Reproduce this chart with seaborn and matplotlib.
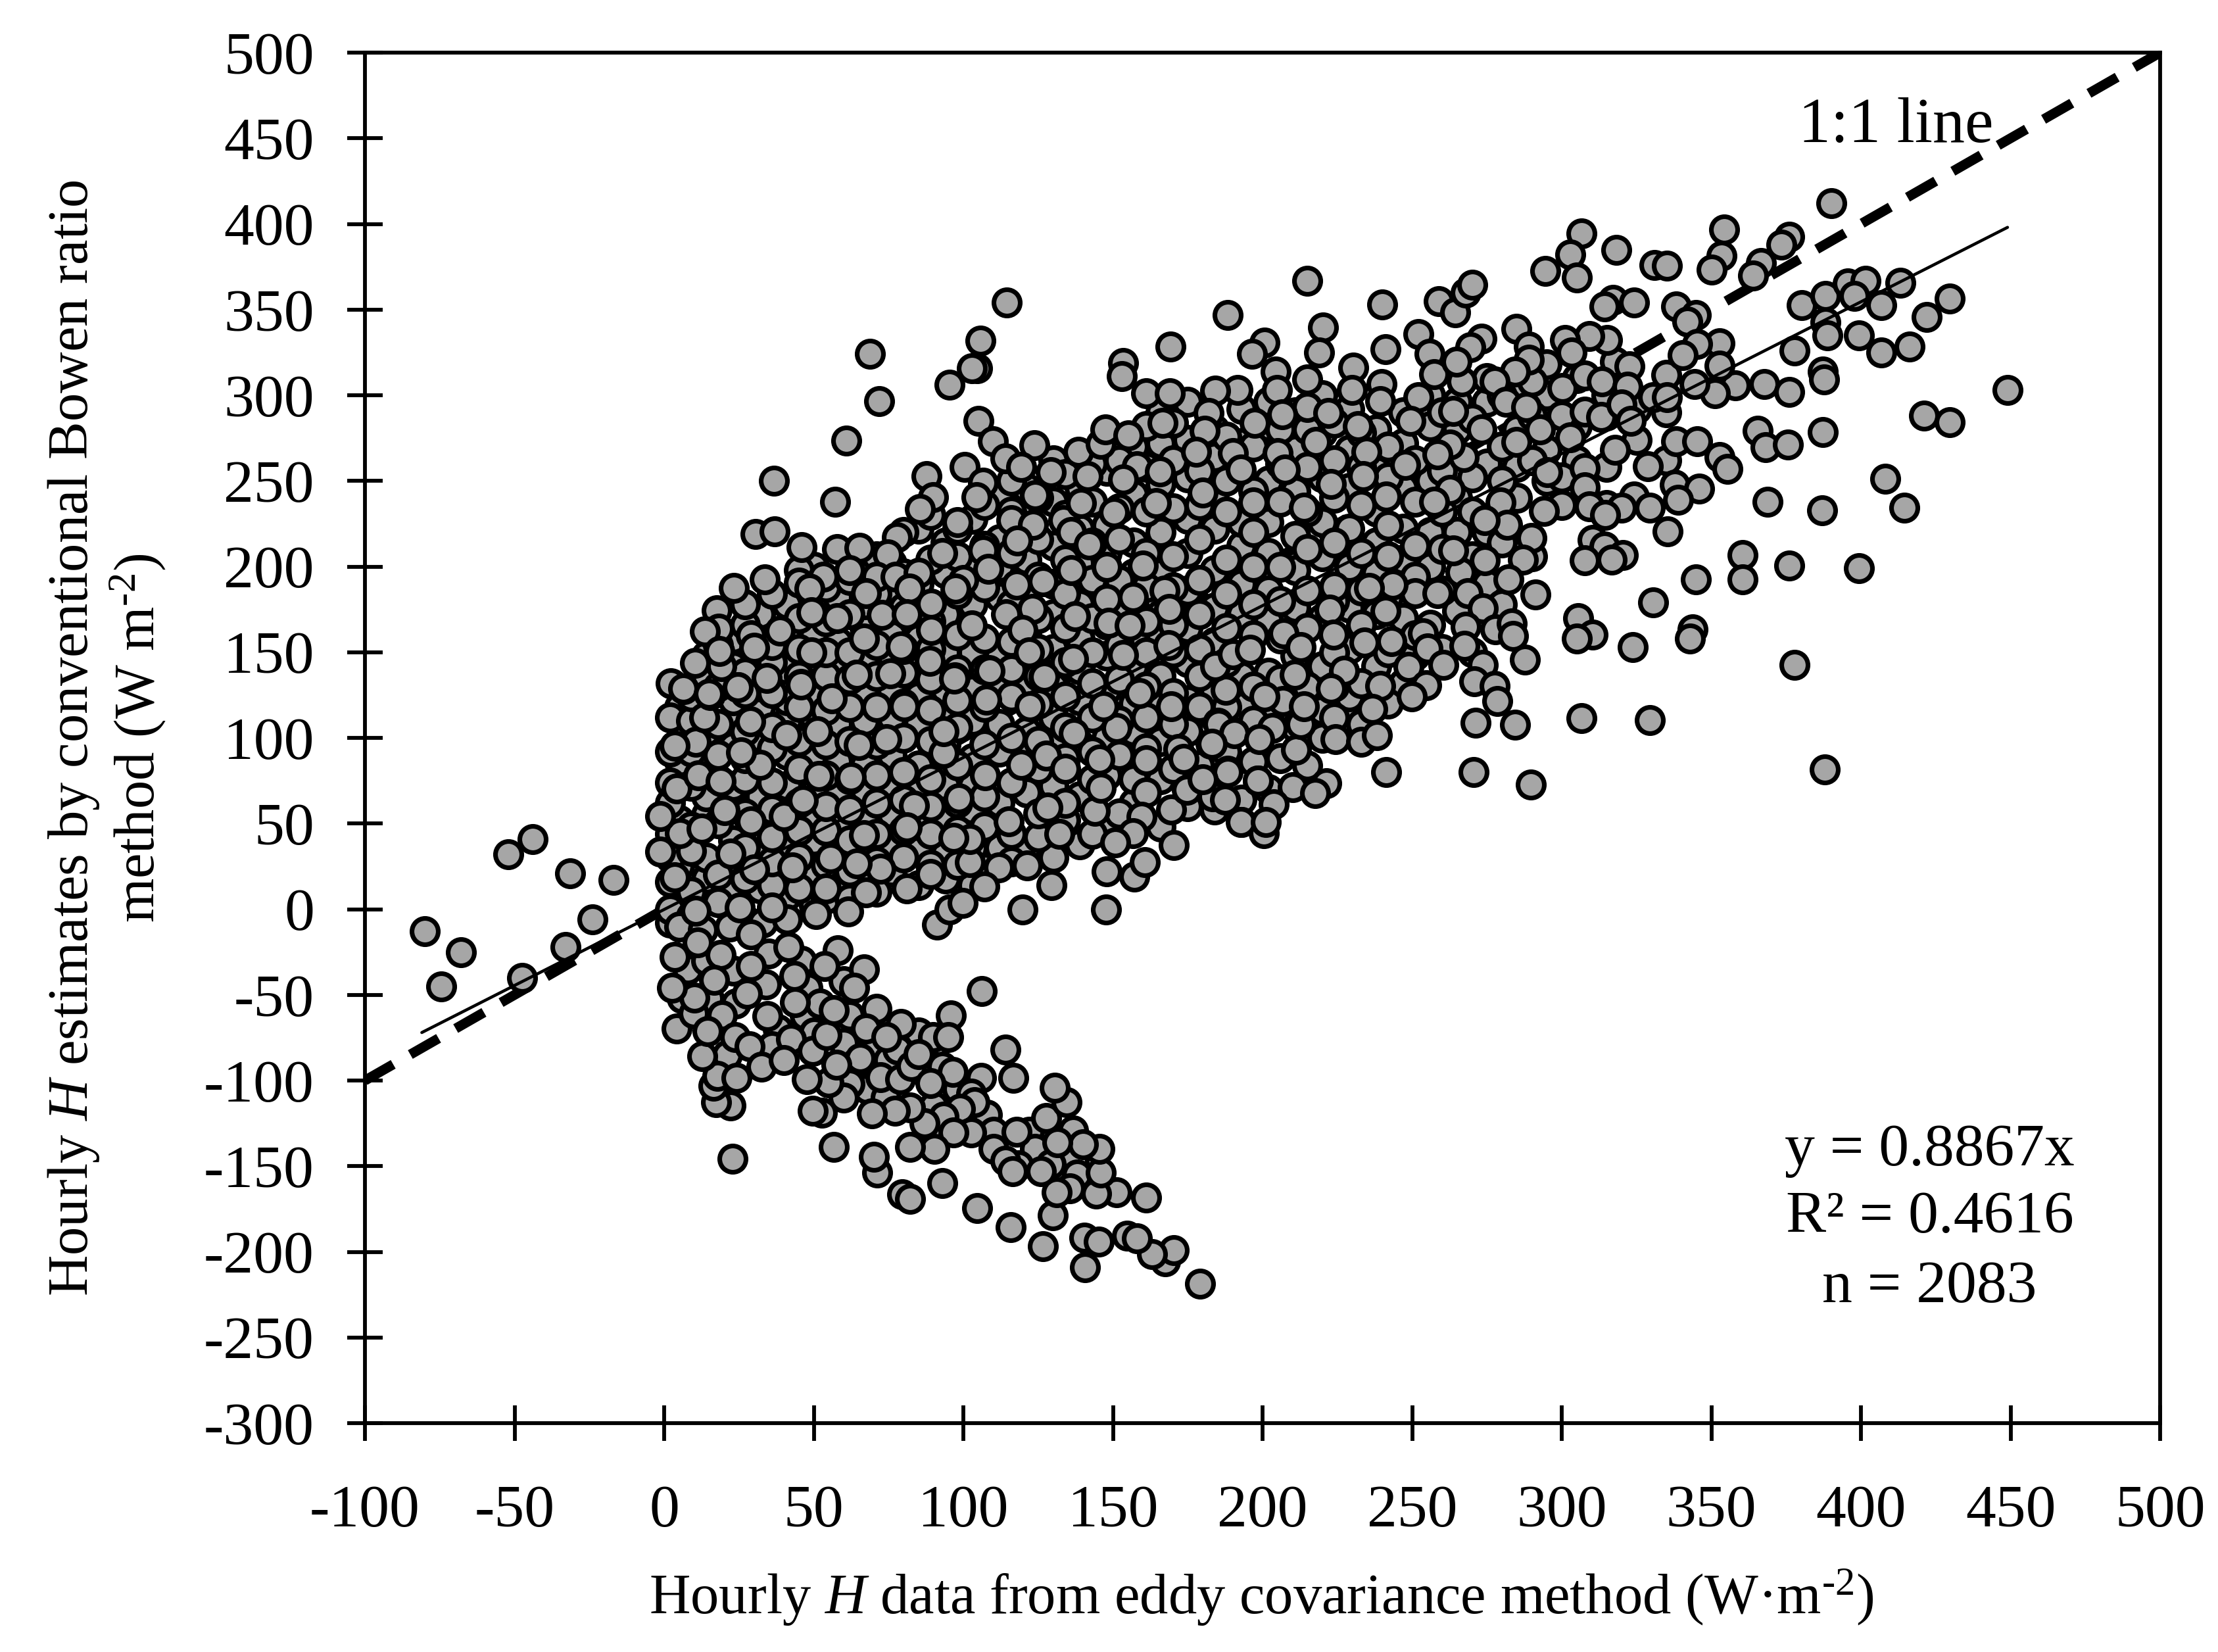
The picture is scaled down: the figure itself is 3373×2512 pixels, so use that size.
import pandas as pd
import seaborn as sns
import matplotlib.pyplot as plt

# tick values and labels
x_ticks = list(range(-100, 501, 50))
y_ticks = list(range(-300, 501, 50))

# 1:1 line and regression line ends
one_x = [-100, 500]
one_y = [-100, 500]
fit_x = [-81, 449]
fit_y = [-72, 398]

stat_labels = ['y = 0.8867x', 'R² = 0.4616', 'n = 2083']

# points left of zero
left_pts = [(-80, -13), (-68, -25), (-74.5, -45), (-52, 32), (-44, 41), (-31.5, 21), (-17, 17), (-24, -6),
            (-33, -22), (-47.5, -40)]

# middle of the cloud, read column by column
core_x = [5, 14, 23, 32, 41, 50, 58, 67, 76, 85, 94, 103, 112, 121, 130, 139, 148, 157, 166, 175, 184, 193,
          202, 211, 220, 229, 238, 247, 256, 265, 275, 285, 295, 305, 315, 325, 335]
core_y = [[8, 25, 38, 52, 78, 86, 108, 118],
          [18, 30, 55, 66, 84, 104, 136, 148],
          [10, 28, 40, 60, 72, 95, 112, 122, 142, 158],
          [12, 34, 48, 66, 80, 100, 118, 130, 148, 172],
          [8, 20, 36, 56, 72, 90, 110, 122, 140, 158, 178],
          [2, 20, 40, 54, 68, 88, 112, 124, 144, 160, 200],
          [14, 32, 48, 66, 86, 108, 128, 142, 156, 182],
          [16, 34, 52, 70, 84, 110, 126, 146, 164, 178, 198],
          [22, 38, 56, 72, 90, 112, 128, 148, 160, 182, 202],
          [14, 34, 50, 68, 84, 108, 124, 142, 158, 190, 222],
          [18, 32, 54, 72, 96, 114, 128, 150, 172, 196, 214],
          [14, 36, 58, 72, 88, 110, 128, 150, 178, 202, 228],
          [36, 62, 92, 108, 132, 148, 182, 200, 216, 240],
          [36, 68, 92, 104, 128, 146, 160, 182, 204, 232, 246],
          [30, 72, 98, 112, 130, 152, 172, 190, 212, 238, 262],
          [38, 66, 96, 122, 140, 158, 178, 202, 222, 246],
          [22, 48, 78, 100, 128, 148, 166, 188, 208, 224, 256],
          [62, 76, 104, 120, 142, 160, 178, 196, 214, 242, 270],
          [48, 76, 98, 120, 136, 160, 172, 196, 220, 248, 272, 290],
          [60, 78, 104, 122, 144, 164, 186, 208, 228, 252, 274, 296],
          [58, 112, 128, 156, 176, 198, 222, 244, 264, 280],
          [64, 118, 136, 172, 190, 212, 226, 272, 292],
          [70, 112, 138, 168, 186, 208, 226, 250, 282, 296],
          [106, 122, 148, 176, 198, 218, 244, 268, 290],
          [100, 116, 142, 170, 206, 226, 252, 278, 300],
          [110, 124, 152, 176, 200, 222, 246, 268, 292],
          [142, 172, 196, 214, 232, 256, 280],
          [132, 170, 204, 222, 246, 272, 290],
          [166, 200, 220, 250, 282, 300],
          [174, 220, 240, 280, 296],
          [190, 220, 260, 296, 310],
          [240, 258, 280, 306],
          [250, 268, 300, 318],
          [262, 282, 310],
          [236, 258, 288, 300],
          [274, 292],
          [262, 290, 312]]

# second pass over the dense part, columns in between
core2_x = [2, 9, 18, 27, 36, 45, 54, 62, 71, 80, 89, 98, 107, 116, 125, 134, 143, 152, 161, 170, 179, 188, 197,
           206, 215, 224, 233, 242, 251, 260, 270, 280, 290, 300]
core2_y = [[-8, 0, 16, 30, 44, 62, 74, 92, 112],
           [-4, 10, 34, 48, 72, 92, 110, 124],
           [4, 20, 50, 76, 90, 108, 130, 154],
           [-6, 18, 36, 56, 76, 88, 104, 126, 138, 166, 178],
           [14, 28, 42, 58, 74, 94, 106, 126, 144, 154, 184],
           [12, 30, 46, 62, 82, 98, 118, 136, 152, 170, 198],
           [6, 26, 46, 60, 78, 96, 116, 136, 150, 168, 188],
           [6, 22, 40, 58, 76, 98, 118, 134, 150, 172, 192],
           [10, 28, 44, 62, 78, 96, 118, 136, 154, 184, 206],
           [30, 46, 64, 80, 100, 120, 138, 152, 176, 196, 220],
           [26, 44, 60, 76, 98, 116, 134, 152, 168, 204, 230],
           [26, 46, 62, 84, 106, 122, 140, 160, 184, 206, 222],
           [24, 48, 66, 96, 118, 140, 158, 188, 212, 236],
           [28, 44, 74, 100, 124, 140, 156, 178, 208, 232, 250],
           [42, 56, 82, 98, 120, 136, 152, 170, 194, 216, 240],
           [52, 62, 88, 106, 124, 144, 164, 184, 204, 230, 254],
           [44, 76, 92, 112, 132, 150, 170, 192, 214, 238, 260],
           [56, 90, 110, 134, 154, 174, 192, 216, 234, 262],
           [68, 94, 112, 130, 150, 168, 188, 208, 232, 258, 282],
           [82, 108, 126, 150, 166, 188, 206, 234, 262, 284],
           [84, 118, 136, 152, 172, 192, 216, 236, 256],
           [92, 118, 144, 164, 184, 204, 232, 250, 276],
           [86, 110, 130, 160, 178, 200, 220, 244, 270],
           [88, 134, 158, 180, 200, 238, 260, 280],
           [84, 130, 164, 186, 210, 232, 258, 280],
           [112, 130, 150, 180, 214, 240, 262, 284],
           [108, 132, 166, 186, 208, 236, 258, 278],
           [120, 150, 182, 206, 224, 252, 270],
           [148, 160, 194, 212, 238, 262],
           [152, 186, 210, 232, 256, 290],
           [150, 206, 232, 252, 286],
           [178, 214, 250, 270, 300],
           [206, 262, 288, 308],
           [236, 252, 288]]

# filling inside the negative branch
neg_fill = [(5, -10), (8, -35), (13, -12), (14, -30), (6, -52), (15, -52), (22, -10), (23, -36), (24, -55), (21, -85),
            (33, -8), (35, -26), (34, -44), (38, -70), (36, -80), (41, -6), (46, -30), (48, -46), (47, -62), (52, -55),
            (50, -72), (58, -24), (60, -42), (62, -62), (60, -78), (64, -90), (70, -80), (75, -88), (68, -105),
            (74, -110), (62, -102), (60, -110), (85, -72), (78, -82), (88, -90), (90, -115), (98, -105), (108, -120),
            (92, -132), (110, -130), (110, -140), (122, -130), (124, -140), (137, -147), (138, -155)]

# negative branch
neg_pts = [(179.2, -218.7), (167.5, -205.7), (170.4, -198.9), (163.1, -201.3), (140.6, -208.9), (126.6, -196.7),
           (115.9, -185.6), (104.7, -174.4), (92.9, -159.9), (79.6, -166.5), (82.1, -169), (71.3, -153.8),
           (70.1, -144.5), (56.6, -138.9), (22.9, -145.7), (140.4, -191.8), (145.3, -194.2), (154.7, -190.5),
           (158, -192.2), (129.8, -178.8), (161.2, -168.3), (151.2, -165.3), (144.3, -166), (135.7, -162.9),
           (131.2, -165.3), (145.9, -153.8), (129.2, -148.9), (118.4, -149.4), (114.1, -147), (125.9, -153),
           (116.4, -153), (145.5, -140.1), (136.6, -129.1), (140, -137.2), (131.5, -136), (127.6, -122),
           (134.5, -112.7), (130.6, -104.1), (117.8, -129.8), (116.8, -98.5), (114.1, -82.1), (106, -98.5),
           (102.7, -107.8), (103.7, -112.7), (98.8, -116.4), (93.3, -121.3), (102.7, -130.3), (96.8, -130.3),
           (90.3, -140.1), (82.1, -138.9), (87, -124.9), (82.1, -115.9), (77.2, -117.6), (69.4, -119.3),
           (52.7, -118.8), (49.7, -117.6), (55, -101.2), (47.8, -99.2), (22.3, -114.6), (17.4, -112.7),
           (16.4, -102.9), (17.8, -97.3), (24.2, -98.5), (12.8, -85.8), (4.2, -69.8), (9.9, -60.8),
           (10.1, -51.5), (2.6, -45.9), (3.6, -27.7), (11.1, -19.2), (18.9, -26.5), (16.8, -41.2),
           (19.3, -62), (14.4, -71.1), (23.8, -74.7), (28.5, -80.1), (32.5, -91.9), (42.5, -76), (49.7, -82.8),
           (54.2, -73.5), (34.6, -62.5), (27.6, -49.5), (29.1, -33.1), (29.1, -14.8), (41.5, -22.1),
           (43.5, -38.8), (43.8, -54.4), (53.7, -33.1), (66.8, -35.1), (63.5, -45.9), (56.6, -58.8),
           (70.9, -58.3), (79.2, -66.9), (67.4, -69.8), (74.3, -74.7), (95.9, -62), (89.9, -74.7), (94.9, -74.7),
           (106.2, -47.8), (72.3, -98), (78.8, -99.2), (82.7, -91.4), (92.9, -91.9), (96.4, -95), (89, -101.7),
           (65.4, -87), (57.6, -90.7), (39.9, -88.2), (85, -84.5)]

# lower edge of the main cloud
lower_pts = [(91.3, -9.1), (95.3, 0), (99.8, 3.6), (119.8, 0), (147.8, 0), (129.4, 13.9), (157.1, 19), (160.6, 27.3),
             (170.4, 37.4), (159.6, 53.8), (169.4, 58.2), (174.7, 69.7), (156.7, 44.5), (150.8, 39.1), (143.9, 57.4),
             (145.9, 70.9), (128.2, 59.2), (132.1, 44), (121.4, 25.6), (111.9, 24.4), (107, 13.4), (102.1, 27.6),
             (102.1, 41), (115.1, 51.3), (98.4, 64.8), (89, 20.7), (81.1, 12.2), (72.3, 23.7), (61.5, -1.3),
             (50.7, -3), (67.4, 9.7), (54, 12.2), (42.9, 24.4), (36, 1.1), (25.2, 1.1), (10.5, -0.8), (55.6, 29.8),
             (64.5, 26.8), (66.8, 43.2), (83.5, 60.4), (81.1, 47.7), (96.8, 41.5), (30.1, 23.2), (22.3, 32.5),
             (3.6, 18.8), (-1.3, 33.5), (5.2, 44.5), (12.5, 46.9), (-1.3, 54.3), (29.1, 51.3), (39.9, 54.3),
             (20.3, 57.9), (4.2, 70.4), (11.5, 78.3), (18.9, 74.6), (46.4, 63.6), (62.5, 77), (51.7, 77.8),
             (32.1, 84.4), (10.5, 97.8), (3.6, 95.4), (25.8, 91.7), (40.9, 101.5), (51.3, 104), (65, 95.9),
             (74.3, 99.1), (93.5, 91), (107.2, 78.3), (119.4, 84.4), (127.6, 89.8), (134.1, 81.9), (145.5, 87.3),
             (161.2, 86.8), (171.8, 93.4), (182.7, 96.6), (188.4, 80.7), (198.5, 75.1), (193, 50.8), (200.4, 44.5),
             (183.2, 66), (137, 102.7), (151.2, 105.7), (169.4, 118.6), (185.1, 108.9), (93.5, 104), (80.2, 118.6),
             (107.6, 122.3), (122.3, 118.6), (146.9, 118.6), (159, 126), (97.2, 135.3), (126.9, 135.8), (108.6, 139.5),
             (56, 123), (64.5, 137), (45.8, 131.6), (24.6, 129.7), (13.4, 112), (28.7, 109.6), (15.4, 124.8),
             (6.6, 128.4), (2.6, 131.6)]

# upper left edge
upper_pts = [(114.6, 354.2), (105.8, 332), (104.7, 315.8), (102.9, 315.8), (68.8, 324), (71.9, 296.7), (95.4, 306),
             (60.8, 273.4), (36.8, 250), (57.2, 237.7), (105, 285), (109.8, 273), (114, 263), (123.7, 270.7),
             (138.4, 267), (146, 271.5), (147.4, 280), (155.2, 276.4), (153.4, 318.7), (153, 311), (161.2, 301.3),
             (169.2, 328.3), (169, 301.3), (166.5, 283.7), (129.3, 255), (119.3, 258), (87.8, 252.6), (100.5, 258),
             (106.5, 249), (104.4, 240.4), (89.8, 240.4), (85.6, 233.5), (30.6, 219), (37, 220.5), (46, 211.5),
             (57.7, 210), (65.2, 211), (77.8, 216.9), (61.9, 198), (74.7, 207), (92.9, 208), (98, 226), (106.5, 209.5),
             (116, 227), (123.3, 224.5), (133.5, 227), (136, 220), (142, 212.7), (139.3, 237), (141.5, 252.6),
             (124, 241.6), (158, 258.7), (153.5, 250.7), (165.8, 255.6), (164.3, 237), (150.3, 231.6), (118, 215),
             (33.7, 192.6), (23.3, 187.7), (53.2, 193.9), (45, 190.7), (48.6, 187), (71, 193.9), (77.4, 193.9),
             (85, 196.3), (82, 187), (67.4, 184.6), (108.4, 198.8), (100, 192), (97.4, 187), (117.9, 189.5),
             (126.6, 191.4), (136, 198), (148, 200), (160, 200.5), (167.2, 186), (148, 181), (156.7, 182),
             (89.2, 178.4), (17.6, 174.3), (49.2, 173.5), (57.9, 170), (72.8, 171.6), (81, 172.3), (114.2, 172.3),
             (123, 175.3), (102.9, 165.5), (89.2, 163), (119.7, 163), (137.4, 171), (148.5, 167), (155.7, 165.7),
             (168.9, 175.3), (18.2, 163.8), (13.6, 162), (29, 160), (38.6, 162.5), (30, 152.7), (49.2, 149.8),
             (66.8, 158), (79.2, 153.5), (88.9, 144.9), (108.7, 139.3), (122, 150), (136.6, 145.9), (153.4, 148.3),
             (168.5, 154), (10.3, 143.7), (19.1, 141.7), (18.4, 150.8), (34.2, 135), (2.1, 132), (6.3, 128.7),
             (15, 125.8), (24.6, 129.5), (45.7, 131.2), (64.3, 136.8), (75.6, 137.6), (97, 134.4), (127, 135.6)]

# right part of the cloud
right_pts = [(390, 412.2), (354.2, 396.6), (306.5, 394.6), (376, 392.5), (373.5, 388), (318.2, 384.9), (302.9, 382),
             (294.4, 372.5), (305, 368.7), (330.9, 376), (335.1, 375.5), (353.4, 381.4), (350, 373.4), (366.5, 377),
             (364, 370), (215, 366.7), (188.4, 347), (240, 353), (258.8, 354.9), (264.3, 348.2), (268, 360),
             (270, 364.3), (220.2, 339.6), (200.7, 330.8), (196.5, 324), (252, 335.8), (241, 327), (255.9, 324),
             (284.9, 338.8), (317.1, 355.5), (314.2, 352), (324.1, 354.3), (338.3, 352), (344.9, 347), (342, 343),
             (380.3, 352.6), (388.1, 357.9), (395.6, 365.2), (401.5, 366.7), (413.2, 365.8), (397.7, 357.9),
             (406.8, 352.6), (429.7, 356.4), (422, 345.5), (388.1, 342.6), (388.8, 335), (399.4, 335), (406.8, 325),
             (416.3, 328.5), (377.8, 326.1), (387.3, 313.8), (387.7, 309.4), (449, 303), (367.6, 306.5), (376, 302),
             (358, 305.9), (351.3, 301.2), (352.7, 330.5), (345.3, 330), (340.4, 323.5), (352.7, 317.3), (317.8, 319.7),
             (322.6, 316.7), (315.2, 332.3), (309.3, 334.4), (301.2, 332.3), (303.3, 325), (289.1, 328.5),
             (289.1, 320.6), (273.2, 332.9), (269.4, 327.9), (284.3, 313.8), (257.3, 312.3), (266.5, 307.9),
             (264.8, 319.7), (239.7, 306.4), (230.4, 316.1), (218.8, 325), (215, 309.4), (204.3, 313.8), (204.8, 303),
             (191.6, 303), (184.2, 302.6), (229.8, 303), (239.3, 296.7), (252, 299), (215, 293.2), (222, 289.7),
             (206.5, 288.8), (182, 289.7), (197.3, 283.8), (180.6, 279.1), (231.9, 282), (249.5, 285), (263.7, 290.9),
             (277.5, 307.9), (281.3, 296.2), (288.1, 293.2), (300.2, 304.4), (307.6, 311.4), (313.5, 307.9),
             (322, 305), (330.5, 299), (335.1, 299), (344.3, 306.5), (307.6, 290.3), (313.1, 287.4), (319.9, 294.7),
             (273.2, 280), (292.7, 280), (302.9, 275.6), (284.9, 272.7), (267.3, 263.8), (262.6, 271.2), (258.4, 265.3),
             (247.8, 259.4), (234.7, 266.8), (217.7, 272.7), (205, 266.2), (190.1, 266.2), (207.5, 256.5),
             (192.7, 256.5), (177.8, 266.8), (222.8, 248.3), (233.6, 252.7), (180, 243.3), (196.9, 237.4),
             (241.4, 240.9), (213.9, 234.5), (262.6, 244.7), (257.3, 238), (279.6, 237.4), (295.1, 255), (307.8, 257.4),
             (317.8, 268.3), (323, 285), (338.3, 273.3), (345.3, 273.3), (352.7, 263.8), (355.3, 257.1), (365.5, 279.1),
             (368.2, 269.7), (375.6, 271.2), (387.3, 278.5), (421.2, 288.2), (429.7, 284.4), (328.8, 258.6),
             (337.9, 247.7), (346, 245.6), (324.1, 240.9), (319.9, 234.5), (329.4, 234.5), (339, 238.9), (307.6, 246.2),
             (309.3, 235), (314.6, 230), (335.4, 220.7), (294, 232.4), (289.8, 216.8), (287, 204.2), (281.7, 224.2),
             (274.3, 227.1), (310.3, 215.4), (314.2, 211.6), (320.5, 206.6), (307.8, 203.6), (316.8, 204.2),
             (368.9, 238), (387.1, 233), (408.1, 251.2), (414.4, 234.5), (360.4, 206.6), (360.4, 192.5), (376, 200.7),
             (399.4, 199.2), (344.9, 192.5), (330.5, 179.2), (305.5, 169.8), (310.3, 160.4), (305, 158), (323.7, 153.1),
             (343.8, 163.4), (342.8, 158), (377.8, 142.5), (291.3, 183.6), (282.1, 192.7), (266.2, 196.9),
             (274.3, 203.6), (263.7, 209.5), (251, 184.5), (258.4, 184.5), (243.6, 189.5), (235.7, 187.5), (224, 188.4),
             (268.6, 184.5), (241, 174.2), (222.4, 174.8), (207.1, 161), (273.7, 175.7), (268, 164.8), (277.9, 163.4),
             (283.2, 166.9), (283.8, 159.5), (253.7, 161), (243.1, 156.6), (234, 155.7), (223.8, 160.1), (255.2, 152.2),
             (267.5, 153.7), (287.7, 145.5), (273.7, 142.8), (260.5, 142.5), (248.9, 141.3), (227.2, 139), (210.7, 137),
             (212.8, 153.1), (222.8, 128.7), (239.3, 130.2), (254.7, 130.8), (270.8, 133.1), (277.5, 130.2),
             (278.5, 121.4), (249.9, 124.3), (236.8, 116.9), (271.1, 108.7), (284.3, 107.5), (306.5, 111.7),
             (329.4, 110.5), (224.5, 99.3), (232.9, 97.8), (238.3, 101.4), (211.3, 92.9), (203.3, 105.8), (212.8, 108.1),
             (206.9, 121.4), (213.9, 118.4), (200.7, 124.3), (187.8, 128.1), (184.2, 141.9), (190.1, 148.7),
             (195.9, 151.6), (185.3, 108.1), (190.5, 102.8), (199, 99.3), (183.1, 96.4), (188.4, 80.2), (198.4, 74.9),
             (210, 71.4), (221.3, 73.5), (217.5, 67.9), (241.4, 80.2), (270.5, 80.2), (289.6, 72.9), (387.9, 81.7),
             (203.7, 61.1), (187.4, 64.1), (192.7, 50.8), (201.2, 50.8), (180, 75.8), (173.6, 87.6)]

rows = []
for cx, ys in zip(core_x + core2_x, core_y + core2_y):
    for cy in ys:
        rows.append((cx, cy))
rows = rows + left_pts + neg_fill + neg_pts + lower_pts + upper_pts + right_pts
df = pd.DataFrame(rows, columns=['ec', 'bowen'])

sns.set_theme(style='white')
plt.rcParams['font.family'] = ['Liberation Serif', 'DejaVu Serif']
plt.rcParams['mathtext.fontset'] = 'custom'
plt.rcParams['mathtext.rm'] = 'Liberation Serif'
plt.rcParams['mathtext.it'] = 'Liberation Serif:italic'
plt.rcParams['axes.unicode_minus'] = False

fig = plt.figure(figsize=(3373 / 300, 2512 / 300), dpi=300, facecolor='white')
ax = fig.add_axes([555 / 3373, 1 - 2164 / 2512, 2730 / 3373, 2084 / 2512])

# 1:1 line goes under the points, fit line on top
sns.lineplot(x=one_x, y=one_y, ax=ax, color='black', linewidth=3.6, zorder=1,
             linestyle=(0, (3.3, 2.0)), errorbar=None)
sns.scatterplot(data=df, x='ec', y='bowen', ax=ax, color='#a6a6a6', edgecolor='black',
                linewidth=1.7, s=92, zorder=2, clip_on=False)
sns.lineplot(x=fit_x, y=fit_y, ax=ax, color='black', linewidth=1.1, zorder=3, errorbar=None)

ax.set_xlim(-100, 500)
ax.set_ylim(-300, 500)
ax.set_xticks(x_ticks)
ax.set_yticks(y_ticks)
ax.tick_params(axis='both', direction='inout', length=13, width=1.4, color='black',
               labelsize=22, labelcolor='black', left=True, bottom=True)
ax.tick_params(axis='x', pad=16)
ax.tick_params(axis='y', pad=12)
for s in ax.spines.values():
    s.set_visible(True)
    s.set_color('black')
    s.set_linewidth(1.4)

ax.set_xlabel('Hourly $\\mathit{H}$ data from eddy covariance method (W·m$^{\u2010 2}$)', fontsize=20.8, color='black')
ax.xaxis.set_label_coords(0.4993, -0.1055)
ax.set_ylabel('Hourly $\\mathit{H}$ estimates by conventional Bowen ratio\nmethod (W m$^{\u2010 2}$)',
              fontsize=20.8, color='black', linespacing=1.15)
ax.yaxis.set_label_coords(-0.11, 0.5)

ax.text(411.6, 457, '1:1 line', fontsize=23.5, ha='center', va='center', color='black')
for lab, ypos in zip(stat_labels, [-141, -180, -221]):
    ax.text(423, ypos, lab, fontsize=22, ha='center', va='center', color='black')

plt.savefig('out.png', dpi=300, facecolor='white')
plt.close()
